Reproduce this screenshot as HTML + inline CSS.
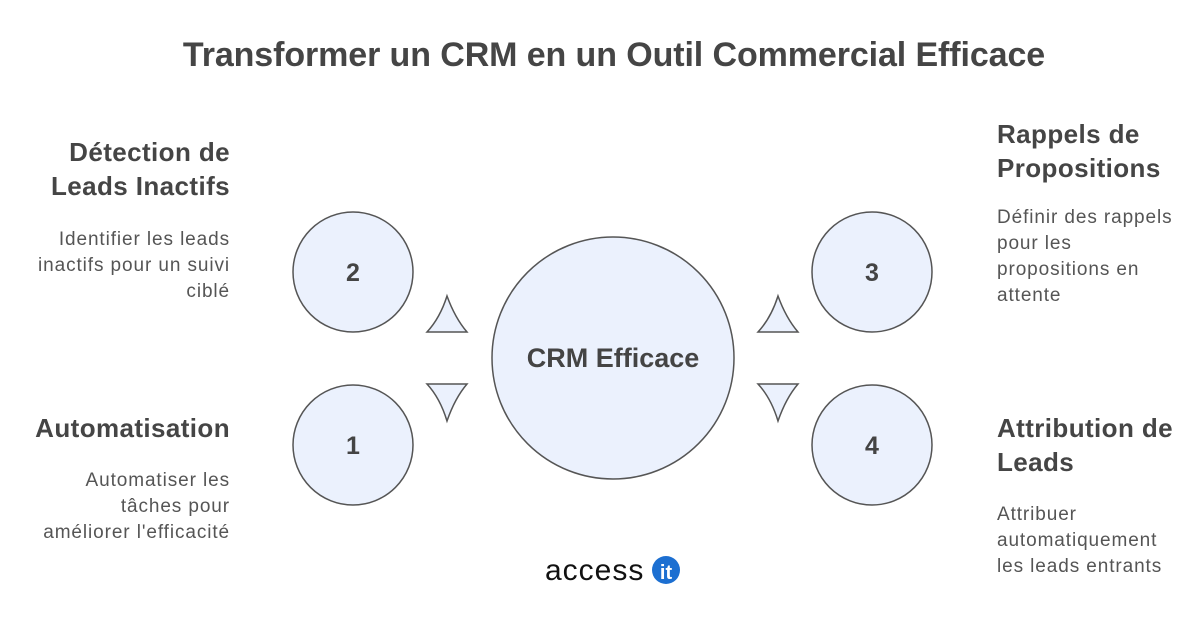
<!DOCTYPE html>
<html><head><style>
body{margin:0;width:1200px;height:630px;background:#fff;font-family:"Liberation Sans",sans-serif;color:#444;position:relative;overflow:hidden}
.t{position:absolute;margin:0}
h1{position:absolute;top:36px;left:14px;width:1200px;text-align:center;font-size:34px;font-weight:bold;margin:0;color:#454545;letter-spacing:-0.1px}
.h{font-size:26px;font-weight:bold;line-height:34px;color:#454545;letter-spacing:0.4px}
.b{font-size:19px;line-height:26px;color:#555;letter-spacing:0.9px}
.l{right:970px;text-align:right}
.r{left:997px}
</style></head><body>
<h1>Transformer un CRM en un Outil Commercial Efficace</h1>
<svg width="1200" height="630" style="position:absolute;left:0;top:0">
<g fill="#ebf1fd" stroke="#555" stroke-width="1.5">
<circle cx="613" cy="358" r="121"/>
<circle cx="353" cy="272" r="60"/>
<circle cx="353" cy="445" r="60"/>
<circle cx="872" cy="272" r="60"/>
<circle cx="872" cy="445" r="60"/>
<path d="M447 296 Q455 318 467 332 L427 332 Q440 318 447 296Z"/>
<path d="M427 384 L467 384 Q455 398 447 421 Q440 398 427 384Z"/>
<path d="M778 296 Q786 318 798 332 L758 332 Q771 318 778 296Z"/>
<path d="M758 384 L798 384 Q786 398 778 421 Q771 398 758 384Z"/>
</g>
<g font-family="Liberation Sans" font-weight="bold" fill="#444" text-anchor="middle">
<text x="613" y="367" font-size="27">CRM Efficace</text>
<text x="353" y="281" font-size="25">2</text>
<text x="353" y="454" font-size="25">1</text>
<text x="872" y="281" font-size="25">3</text>
<text x="872" y="454" font-size="25">4</text>
</g>
<text x="545" y="580" font-family="Liberation Sans" font-size="30" fill="#111" letter-spacing="1">access</text>
<circle cx="666" cy="570" r="14" fill="#1c6fd1"/>
<text x="666" y="579" font-family="Liberation Sans" font-weight="bold" font-size="20" fill="#fff" text-anchor="middle">it</text>
</svg>
<div class="t h l" style="top:135px">Détection de<br>Leads Inactifs</div>
<div class="t b l" style="top:227px">Identifier les leads<br>inactifs pour un suivi<br>ciblé</div>
<div class="t h l" style="top:411px">Automatisation</div>
<div class="t b l" style="top:468px">Automatiser les<br>tâches pour<br>améliorer l'efficacité</div>
<div class="t h r" style="top:117px">Rappels de<br>Propositions</div>
<div class="t b r" style="top:205px">Définir des rappels<br>pour les<br>propositions en<br>attente</div>
<div class="t h r" style="top:411px">Attribution de<br>Leads</div>
<div class="t b r" style="top:502px">Attribuer<br>automatiquement<br>les leads entrants</div>
</body></html>
